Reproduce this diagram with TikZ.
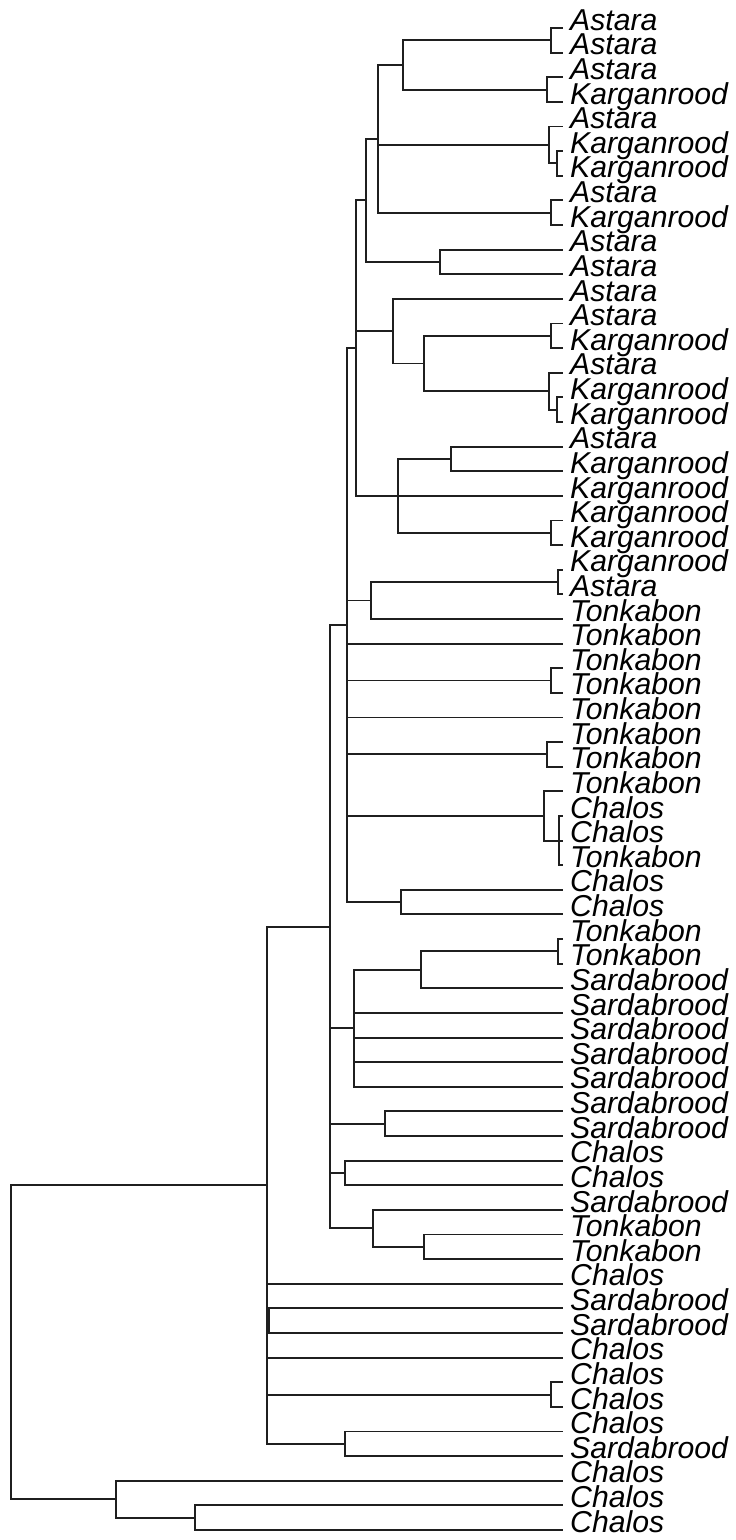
\documentclass[tikz,border=0pt]{standalone}
\usepackage{fontspec}
\newfontfamily\lblfont{Liberation Sans}
\newcommand{\Ytip}[1]{28+(#1-1)*24.623}
\begin{document}
\begin{tikzpicture}[x=1pt,y=-1pt,
  edge/.style={line width=1.9pt,draw=black!88},
  lbl/.style={anchor=mid west,inner sep=0pt,font=\lblfont\itshape\fontsize{30.2}{30}\selectfont}]
\useasboundingbox (0,0) rectangle (736,1540);
% tips and labels
\foreach \i/\lab in {1/Astara,2/Astara,3/Astara,4/Karganrood,5/Astara,6/Karganrood,7/Karganrood,8/Astara,9/Karganrood,10/Astara,11/Astara,12/Astara,13/Astara,14/Karganrood,15/Astara,16/Karganrood,17/Karganrood,18/Astara,19/Karganrood,20/Karganrood,21/Karganrood,22/Karganrood,23/Karganrood,24/Astara,25/Tonkabon,26/Tonkabon,27/Tonkabon,28/Tonkabon,29/Tonkabon,30/Tonkabon,31/Tonkabon,32/Tonkabon,33/Chalos,34/Chalos,35/Tonkabon,36/Chalos,37/Chalos,38/Tonkabon,39/Tonkabon,40/Sardabrood,41/Sardabrood,42/Sardabrood,43/Sardabrood,44/Sardabrood,45/Sardabrood,46/Sardabrood,47/Chalos,48/Chalos,49/Sardabrood,50/Tonkabon,51/Tonkabon,52/Chalos,53/Sardabrood,54/Sardabrood,55/Chalos,56/Chalos,57/Chalos,58/Chalos,59/Sardabrood,60/Chalos,61/Chalos,62/Chalos}{
  \coordinate (t\i) at (563,{\Ytip{\i}});
  \node[lbl] (l\i) at (570,{\Ytip{\i}}) {\lab};
}
% internal nodes
\foreach \n/\x/\k in {b12/551/1.5, b34/547/3.5, F/403/2.5, b67/557/6.5, n5/549/5.75, b89/551/8.5, G/378/5.5, b1011/440/10.5, E/366/8, b1314/551/13.5, b1617/557/16.5, n15/549/15.75, n424/424/14.625, n393/393/13.3125, b1819/451/18.5, b2122/551/21.5, H/398/20, D/356/14, b2324/558/23.5, n371/371/24.25, b2728/551/27.5, b3031/547/30.5, n559/559/34, n544/544/33, b3637/401/36.5, B/347/25.25, b3839/558/38.5, n421/421/39.25, C/354/41.625, b4546/385/45.5, b4748/345/47.5, b5051/424/50.5, n373/373/49.75, A/330/37.5, b5354/269/53.5, b5657/551/56.5, b5859/345/58.5, M/267/48, b6162/195/61.5, n116/116/60.75, R/11/54.375}{
  \coordinate (\n) at (\x,{\Ytip{\k}});
}
% edges
\foreach \p/\c in {b12/t1, b12/t2, b34/t3, b34/t4, F/b12, F/b34, b67/t6, b67/t7, n5/t5, n5/b67, b89/t8, b89/t9, G/F, G/n5, G/b89, b1011/t10, b1011/t11, E/G, E/b1011, b1314/t13, b1314/t14, b1617/t16, b1617/t17, n15/t15, n15/b1617, n424/b1314, n424/n15, n393/t12, n393/n424, b1819/t18, b1819/t19, b2122/t21, b2122/t22, H/b1819, H/t20, H/b2122, D/E, D/n393, D/H, b2324/t23, b2324/t24, n371/b2324, n371/t25, b2728/t27, b2728/t28, b3031/t30, b3031/t31, n559/t33, n559/t34, n559/t35, n544/t32, n544/n559, b3637/t36, b3637/t37, B/D, B/n371, B/t26, B/b2728, B/t29, B/b3031, B/n544, B/b3637, b3839/t38, b3839/t39, n421/b3839, n421/t40, C/n421, C/t41, C/t42, C/t43, C/t44, b4546/t45, b4546/t46, b4748/t47, b4748/t48, b5051/t50, b5051/t51, n373/t49, n373/b5051, A/B, A/C, A/b4546, A/b4748, A/n373, b5354/t53, b5354/t54, b5657/t56, b5657/t57, b5859/t58, b5859/t59, M/A, M/t52, M/b5354, M/t55, M/b5657, M/b5859, b6162/t61, b6162/t62, n116/t60, n116/b6162, R/M, R/n116}{
  \draw[edge] (\p) |- (\c);
}
\end{tikzpicture}
\end{document}
